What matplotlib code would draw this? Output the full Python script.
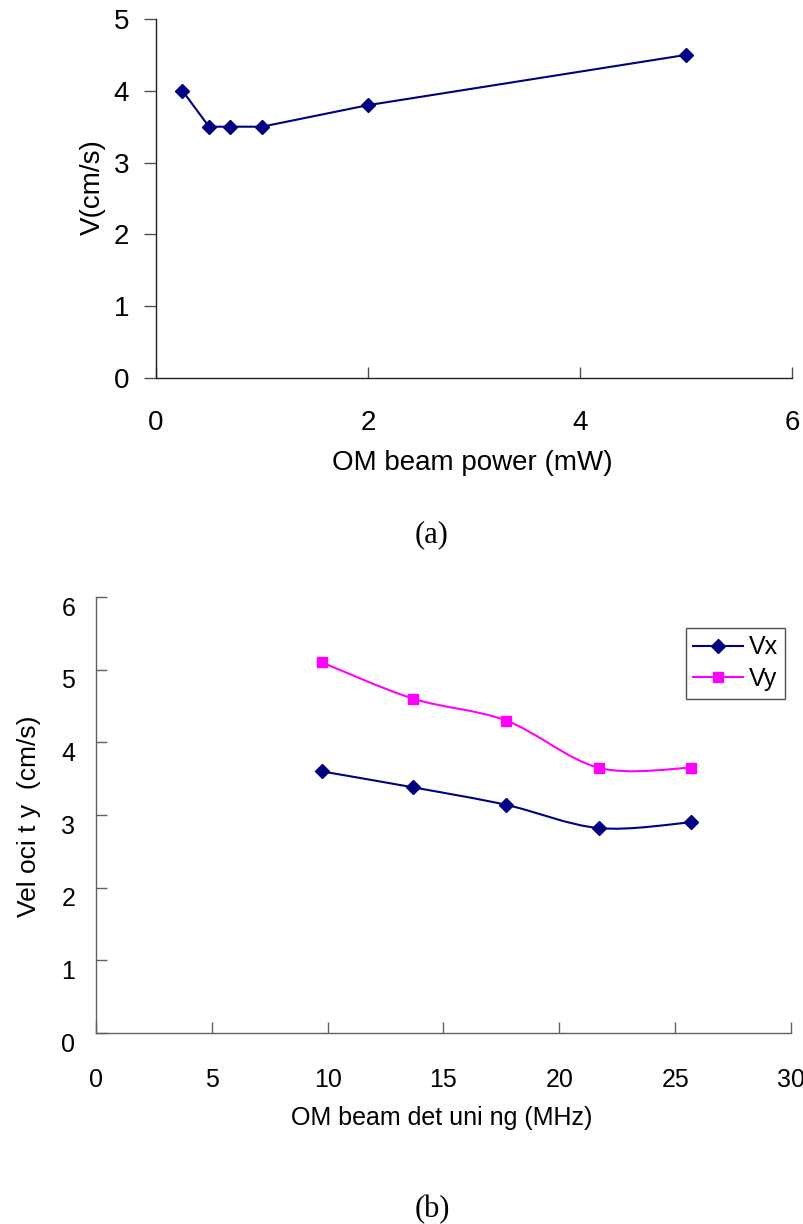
import numpy as np
import matplotlib
matplotlib.use("Agg")
import matplotlib.pyplot as plt
import matplotlib.transforms as mtransforms
from matplotlib.path import Path
from matplotlib.patches import PathPatch
from matplotlib.lines import Line2D

# (a) velocity vs. optical-molasses beam power
power_mw = [0.25, 0.5, 0.7, 1.0, 2.0, 5.0]
v_power = [4.0, 3.5, 3.5, 3.5, 3.8, 4.5]

# (b) velocity components vs. optical-molasses beam detuning
detuning_mhz = [9.75, 13.7, 17.7, 21.7, 25.7]
vx = [3.6, 3.38, 3.14, 2.82, 2.9]
vy = [5.1, 4.6, 4.3, 3.65, 3.65]

top_xticks = [0, 2, 4, 6]
top_yticks = [0, 1, 2, 3, 4, 5]
bot_xticks = [0, 5, 10, 15, 20, 25, 30]
bot_yticks = [0, 1, 2, 3, 4, 5, 6]

NAVY = "#000080"
MAGENTA = "#FF00FF"
SANS = ["Liberation Sans", "DejaVu Sans"]
SERIF = ["Liberation Serif", "DejaVu Serif"]

W, H = 804, 1224
fig = plt.figure(figsize=(W / 100, H / 100), dpi=100)


def px_axes(left, top, right, bottom):
    return fig.add_axes([left / W, 1 - bottom / H, (right - left) / W, (bottom - top) / H])


def smooth_path(xs, ys):
    """Catmull-Rom style Bezier path through the points (spreadsheet 'smoothed line')."""
    pts = np.column_stack([xs, ys]).astype(float)
    n = len(pts)
    verts = [pts[0]]
    codes = [Path.MOVETO]
    for i in range(n - 1):
        p0 = pts[i - 1] if i > 0 else pts[i]
        p1 = pts[i]
        p2 = pts[i + 1]
        p3 = pts[i + 2] if i + 2 < n else pts[i + 1]
        c1 = p1 + (p2 - p0) / 6.0
        c2 = p2 - (p3 - p1) / 6.0
        verts += [c1, c2, p2]
        codes += [Path.CURVE4] * 3
    return Path(verts, codes)


# ---------------- panel (a) ----------------
ax1 = px_axes(156, 19, 792, 378)
ax1.plot(power_mw, v_power, color=NAVY, lw=1.5, marker="D", ms=7.5,
         mfc=NAVY, mec=NAVY, zorder=3)
ax1.set_xlim(0, 6)
ax1.set_ylim(0, 5)
ax1.set_xticks(top_xticks)
ax1.set_yticks(top_yticks)
for s in ("top", "right"):
    ax1.spines[s].set_visible(False)
for s in ("left", "bottom"):
    ax1.spines[s].set_color("#202020")
    ax1.spines[s].set_linewidth(1.0)
ax1.tick_params(axis="y", direction="out", length=9, width=1.0, color="#505050",
                pad=10.5, labelsize=20)
ax1.tick_params(axis="x", direction="in", length=8, width=1.0, color="#505050",
                pad=23, labelsize=20)
for lab in ax1.get_xticklabels() + ax1.get_yticklabels():
    lab.set_family(SANS)
fig.text(472 / W, 1 - 463 / H, "OM beam power (mW)", ha="center", va="center",
         fontsize=20, family=SANS)
fig.text(93 / W, 1 - 187 / H, "V(cm/s)", ha="center", va="center", rotation=90,
         fontsize=20, family=SANS)
fig.text(432 / W, 1 - 535 / H, "(a)", ha="center", va="center", fontsize=22,
         family=SERIF)

# ---------------- panel (b) ----------------
ax2 = px_axes(96, 597, 791, 1033)
ax2.add_patch(PathPatch(smooth_path(detuning_mhz, vx), fill=False, edgecolor=NAVY,
                        lw=1.5, zorder=2))
ax2.add_patch(PathPatch(smooth_path(detuning_mhz, vy), fill=False, edgecolor=MAGENTA,
                        lw=1.5, zorder=2))
ax2.plot(detuning_mhz, vx, ls="none", marker="D", ms=7.5, color=NAVY, zorder=3)
ax2.plot(detuning_mhz, vy, ls="none", marker="s", ms=7, color=MAGENTA, zorder=3)
ax2.set_xlim(0, 30)
ax2.set_ylim(0, 6)
ax2.set_xticks(bot_xticks)
ax2.set_yticks(bot_yticks)
for s in ("top", "right"):
    ax2.spines[s].set_visible(False)
for s in ("left", "bottom"):
    ax2.spines[s].set_color("#606060")
    ax2.spines[s].set_linewidth(1.0)
ax2.tick_params(axis="y", direction="in", length=8, width=1.0, color="#606060",
                pad=15, labelsize=18)
ax2.tick_params(axis="x", direction="in", length=8, width=1.0, color="#606060",
                pad=25, labelsize=18)
ylab_shift = mtransforms.ScaledTranslation(0, -9 / 100, fig.dpi_scale_trans)
for lab in ax2.get_yticklabels():
    lab.set_transform(lab.get_transform() + ylab_shift)
for lab in ax2.get_xticklabels() + ax2.get_yticklabels():
    lab.set_family(SANS)
fig.text(442 / W, 1 - 1118 / H, "OM beam det uni ng (MHz)", ha="center", va="center",
         fontsize=18, family=SANS)
fig.text(29 / W, 1 - 816 / H, "Vel oci t y  (cm/s)", ha="center", va="center",
         rotation=90, fontsize=19, family=SANS)
fig.text(432 / W, 1 - 1210 / H, "(b)", ha="center", va="center", fontsize=22,
         family=SERIF)

handles = [
    Line2D([], [], color=NAVY, lw=1.5, marker="D", ms=7.5),
    Line2D([], [], color=MAGENTA, lw=1.5, marker="s", ms=7),
]
leg = ax2.legend(handles, ["Vx", "Vy"], loc="upper left",
                 bbox_to_anchor=(686 / W, 1 - 628 / H), bbox_transform=fig.transFigure,
                 frameon=True, fancybox=False, edgecolor="#505050", framealpha=1,
                 borderpad=0.3, labelspacing=0.3, handlelength=2.0, handletextpad=0.2,
                 borderaxespad=0, prop={"family": SANS, "size": 18})
leg.get_frame().set_linewidth(1.0)

fig.savefig("out.png", dpi=100)
